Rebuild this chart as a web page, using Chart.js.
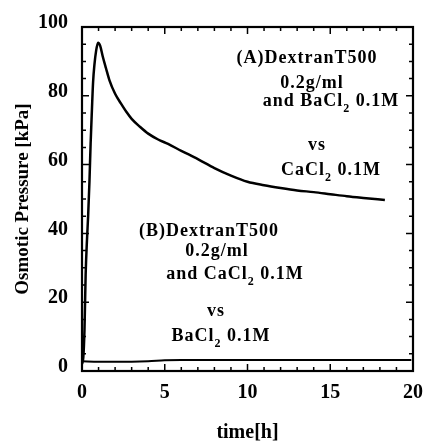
<!DOCTYPE html>
<html>
<head>
<meta charset="utf-8">
<title>Osmotic pressure vs time</title>
<script src="https://cdn.jsdelivr.net/npm/chart.js@4.4.1/dist/chart.umd.min.js"></script>
<style>
    html, body { margin: 0; padding: 0; background: #fff; }
    #wrap { width: 433px; height: 442px; }
</style>
</head>
<body>
<div id="wrap"><canvas id="osmoticChart" width="433" height="442"></canvas></div>
<script>
// Values: time [h] and osmotic pressure [kPa]
const timeA = [0, 0.08, 0.15, 0.22, 0.3, 0.37, 0.45, 0.52, 0.6, 0.67, 0.75, 0.85, 0.97, 1.1, 1.25, 1.45, 1.66, 2.0, 2.35, 2.7, 3.0, 3.5, 4.0, 4.6, 5.2, 6.0, 7.0, 8.0, 9.0, 10.0, 11.0, 12.0, 13.0, 14.0, 15.0, 16.0, 17.0, 18.3];
const pressureA = [2, 4, 12, 28, 38, 45, 55, 66, 76, 84, 89, 93, 95.4, 94.5, 91.5, 88, 84.5, 80.6, 77.8, 75.2, 73.3, 71, 69, 67.3, 66, 64, 61.6, 59, 56.8, 55, 54, 53.2, 52.5, 52, 51.4, 50.8, 50.3, 49.7];
const timeB = [0, 1, 2, 3, 4, 5, 6, 8, 10, 12, 14, 16, 18, 19.9];
const pressureB = [2.8, 2.7, 2.7, 2.7, 2.8, 3.1, 3.2, 3.2, 3.2, 3.2, 3.2, 3.2, 3.2, 3.2];
const xTickLabels = [0, 5, 10, 15, 20];
const yTickLabels = [0, 20, 40, 60, 80, 100];

// annotation lines, "_" marks a subscript character
const notesA = ['(A)DextranT500', '0.2g/ml', 'and BaCl_2 0.1M', 'vs', 'CaCl_2 0.1M'];
const notesB = ['(B)DextranT500', '0.2g/ml', 'and CaCl_2 0.1M', 'vs', 'BaCl_2 0.1M'];

const SERIF = "'Liberation Serif', 'DejaVu Serif', serif";

document.addEventListener('DOMContentLoaded', () => {
    const ctx = document.getElementById('osmoticChart').getContext('2d');

    // where each annotation line sits (centre x, baseline y), in pixels
    const placeA = [[307, 63], [312, 88], [331, 106], [317, 150], [331, 175]];
    const placeB = [[209, 236], [217, 256], [235, 279], [216, 316], [221, 341]];

    function drawNote(c, text, cx, base) {
        const parts = text.split('_');
        const pieces = [{ t: parts[0], sub: false }];
        if (parts.length > 1) {
            pieces.push({ t: parts[1].charAt(0), sub: true });
            pieces.push({ t: parts[1].slice(1), sub: false });
        }
        const bigFont = 'bold 18px ' + SERIF;
        const subFont = 'bold 12px ' + SERIF;
        c.letterSpacing = '1px';
        let total = 0;
        pieces.forEach(p => {
            c.font = p.sub ? subFont : bigFont;
            p.w = c.measureText(p.t).width;
            total += p.w;
        });
        let x = cx - total / 2;
        c.textAlign = 'left';
        c.textBaseline = 'alphabetic';
        pieces.forEach(p => {
            c.font = p.sub ? subFont : bigFont;
            c.fillText(p.t, x, p.sub ? base + 6 : base);
            x += p.w;
        });
        c.letterSpacing = '0px';
    }

    // box frame with inward ticks plus the text notes
    const framePlugin = {
        id: 'frame',
        afterDatasetsDraw(chart) {
            const c = chart.ctx;
            const area = chart.chartArea;
            const xs = chart.scales.x;
            const ys = chart.scales.y;
            c.save();
            c.strokeStyle = '#000';
            c.lineWidth = 1.5;
            for (let t = 0; t <= 20; t += 1) {
                const px = xs.getPixelForValue(t);
                const len = t % 5 === 0 ? 7 : 4;
                c.beginPath();
                c.moveTo(px, area.bottom);
                c.lineTo(px, area.bottom - len);
                c.moveTo(px, area.top);
                c.lineTo(px, area.top + len);
                c.stroke();
            }
            for (let v = 0; v <= 100; v += 5) {
                const py = ys.getPixelForValue(v);
                const len = v % 20 === 0 ? 7 : 4;
                c.beginPath();
                c.moveTo(area.left, py);
                c.lineTo(area.left + len, py);
                c.moveTo(area.right, py);
                c.lineTo(area.right - len, py);
                c.stroke();
            }
            c.lineWidth = 2.2;
            c.strokeRect(area.left, area.top, area.right - area.left, area.bottom - area.top);

            c.fillStyle = '#000';
            notesA.forEach((n, i) => drawNote(c, n, placeA[i][0], placeA[i][1]));
            notesB.forEach((n, i) => drawNote(c, n, placeB[i][0], placeB[i][1]));
            c.restore();
        }
    };

    const tickFont = { family: SERIF, size: 20, weight: 'bold' };

    new Chart(ctx, {
        type: 'line',
        data: {
            datasets: [
                {
                    label: 'A',
                    data: timeA.map((t, i) => ({ x: t, y: pressureA[i] })),
                    borderColor: '#000',
                    borderWidth: 2.5,
                    pointRadius: 0,
                    cubicInterpolationMode: 'monotone'
                },
                {
                    label: 'B',
                    data: timeB.map((t, i) => ({ x: t, y: pressureB[i] })),
                    borderColor: '#000',
                    borderWidth: 2,
                    pointRadius: 0,
                    cubicInterpolationMode: 'monotone'
                }
            ]
        },
        options: {
            responsive: false,
            animation: false,
            layout: { padding: { top: 27, right: 14, left: 0, bottom: 0 } },
            plugins: {
                legend: { display: false },
                tooltip: { enabled: false }
            },
            scales: {
                x: {
                    type: 'linear',
                    min: 0,
                    max: 20,
                    afterBuildTicks: s => { s.ticks = xTickLabels.map(v => ({ value: v })); },
                    afterFit: s => { s.height = 71; },
                    grid: { display: false, drawTicks: false, tickLength: 0 },
                    border: { display: false },
                    ticks: { font: tickFont, color: '#000', padding: 10, maxRotation: 0, autoSkip: false },
                    title: {
                        display: true,
                        text: 'time[h]',
                        color: '#000',
                        font: { family: SERIF, size: 20, weight: 'bold' },
                        padding: { top: 0, bottom: -3 }
                    }
                },
                y: {
                    min: 0,
                    max: 100,
                    afterBuildTicks: s => { s.ticks = yTickLabels.map(v => ({ value: v })); },
                    afterFit: s => { s.width = 82; },
                    grid: { display: false, drawTicks: false, tickLength: 0 },
                    border: { display: false },
                    ticks: { font: tickFont, color: '#000', padding: 14, labelOffset: -4 },
                    title: {
                        display: true,
                        text: 'Osmotic Pressure [kPa]',
                        color: '#000',
                        font: { family: SERIF, size: 19, weight: 'bold' },
                        padding: { top: 12, bottom: 0 }
                    }
                }
            }
        },
        plugins: [framePlugin]
    });
});
</script>
</body>
</html>
